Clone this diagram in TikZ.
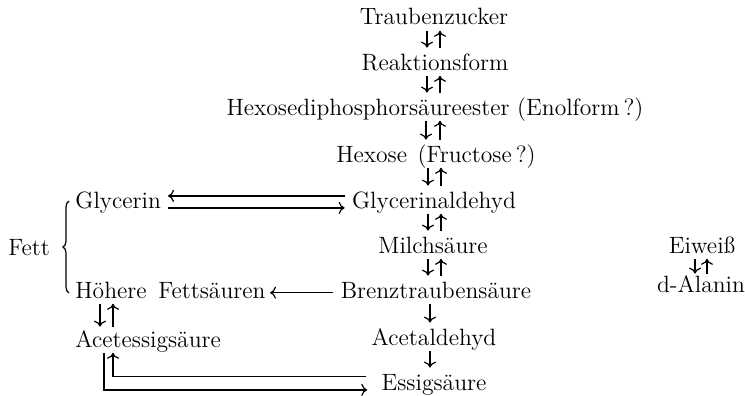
\documentclass[tikz,border=0pt]{standalone}
\usetikzlibrary{arrows.meta,decorations.pathreplacing}
\begin{document}
\begin{tikzpicture}[x=0.5pt,y=-0.5pt,
  lbl/.style={inner xsep=3.5pt,inner ysep=0pt,text height=8pt,text depth=2.7pt,
    font=\fontsize{11.8}{14}\selectfont,anchor=base},
  lbll/.style={lbl,anchor=base west,inner xsep=0pt},
  arr/.style={line width=0.6pt,-{Computer Modern Rightarrow[length=3pt,width=6pt]}},
  ln/.style={line width=0.6pt}]
\useasboundingbox (0,0) rectangle (745,396);

% main chain
\node[lbl] (tz)  at (434,25)  {Traubenzucker};
\node[lbl] (rf)  at (435,70)  {Reaktionsform};
\node[lbl] (hdp) at (435,115) {Hexosediphosphorsäureester (Enolform\,?)};
\node[lbl] (hex) at (436,162) {Hexose\hspace{0.45em}(Fructose\,?)};
\node[lbl] (ga)  at (434,208) {Glycerinaldehyd};
\node[lbl] (ms)  at (433,253) {Milchsäure};
\node[lbl] (bt)  at (436,298) {Brenztraubensäure};
\node[lbl] (ad)  at (434,345) {Acetaldehyd};
\node[lbl] (es)  at (434,390) {Essigsäure};

% fat branch
\node[lbll] (fett) at (8,255)   {Fett};
\node[lbll] (gl)   at (75,208)  {Glycerin};
\node[lbll] (hf)   at (75,298)  {Höhere\hspace{0.5em}Fettsäuren};
\node[lbll] (ae)   at (75,347)  {Acetessigsäure};

% protein
\node[lbl] (ew) at (702,253) {Eiweiß};
\node[lbl] (al) at (701,292) {d-Alanin};

% reversible steps: down arrow at x #3, up arrow at x #4, end gap #5
\newcommand\pairarrows[5]{%
  \coordinate (pd) at (#3,0); \coordinate (pu) at (#4,0);
  \draw[arr,shorten >=#5] (#1.south -| pd) -- (#2.north -| pd);
  \draw[arr,shorten <=#5] (#2.north -| pu) -- (#1.south -| pu);}
\pairarrows{tz}{rf}{427}{440}{3pt}
\pairarrows{rf}{hdp}{427}{440}{3pt}
\pairarrows{hdp}{hex}{426}{440}{3pt}
\pairarrows{hex}{ga}{428}{441}{3pt}
\pairarrows{ga}{ms}{428}{441}{3pt}
\pairarrows{ms}{bt}{428}{441}{3pt}
\pairarrows{hf}{ae}{100}{113}{2pt}
\pairarrows{ew}{al}{695}{707}{1pt}

% irreversible steps
\coordinate (sx) at (430,0);
\draw[arr,shorten >=3pt] (bt.south -| sx) -- (ad.north -| sx);
\draw[arr,shorten >=3pt] (ad.south -| sx) -- (es.north -| sx);

% Glycerin <-> Glycerinaldehyd
\draw[arr] ([yshift=3.4pt]ga.west) -- ([yshift=3.4pt]gl.east -| 168,0);
\draw[arr] ([yshift=-2.6pt]gl.east -| 168,0) -- ([yshift=-2.6pt]ga.west);

% Brenztraubensäure -> Höhere Fettsäuren
\draw[arr] (bt.west) -- (hf.east -| 270,0);

% Acetessigsäure <-> Essigsäure
\coordinate (bl) at (104,0);
\coordinate (br) at (113,0);
\draw[arr,shorten >=3.5pt] (ae.south -| bl) |- ([yshift=-2.6pt]es.west);
\draw[arr,shorten <=4pt] ([yshift=4pt]es.west) -| (ae.south -| br);

% brace grouping the fat components
\draw[ln,decorate,decoration={brace,amplitude=3pt}] (69,293) -- (69,201);
\end{tikzpicture}
\end{document}
